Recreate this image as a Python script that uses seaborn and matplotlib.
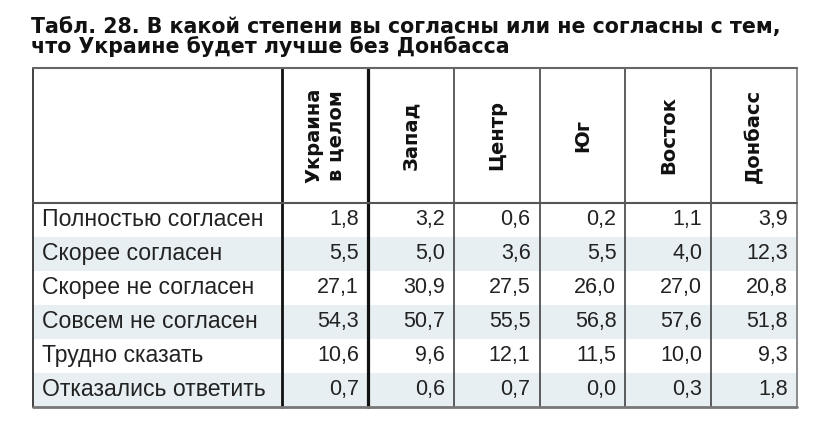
import matplotlib
matplotlib.use("Agg")
import matplotlib.pyplot as plt
import seaborn as sns
import numpy as np
import pandas as pd
from matplotlib.colors import ListedColormap

# ---- data ----
title_lines = [
    "Табл. 28. В какой степени вы согласны или не согласны с тем,",
    "что Украине будет лучше без Донбасса",
]
regions = ["Украина\nв целом", "Запад", "Центр", "Юг", "Восток", "Донбасс"]
answers = [
    "Полностью согласен",
    "Скорее согласен",
    "Скорее не согласен",
    "Совсем не согласен",
    "Трудно сказать",
    "Отказались ответить",
]
ukraine = [1.8, 5.5, 27.1, 54.3, 10.6, 0.7]
zapad = [3.2, 5.0, 30.9, 50.7, 9.6, 0.6]
centr = [0.6, 3.6, 27.5, 55.5, 12.1, 0.7]
yug = [0.2, 5.5, 26.0, 56.8, 11.5, 0.0]
vostok = [1.1, 4.0, 27.0, 57.6, 10.0, 0.3]
donbass = [3.9, 12.3, 20.8, 51.8, 9.3, 1.8]

df = pd.DataFrame(
    dict(zip(regions, [ukraine, zapad, centr, yug, vostok, donbass])), index=answers
)
nrow, ncol = df.shape
parity = np.arange(nrow) % 2
shade = pd.DataFrame(np.repeat(parity[:, None], ncol, axis=1), index=answers, columns=regions)

# ---- style ----
sns.set_style("white")
REG = ["Liberation Sans", "DejaVu Sans"]
BOLD = ["DejaVu Sans"]
SHADE = "#e7eff2"
TXT = "#222222"

W, H = 836, 446
fig = plt.figure(figsize=(W / 100, H / 100), dpi=100)
fig.patch.set_facecolor("white")

x_left, x_lab, x_right = 33, 282, 797
y_top, y_hdr, y_bot = 68, 203, 407
ax = fig.add_axes([x_left / W, 1 - y_bot / H, (x_right - x_left) / W, (y_bot - y_top) / H])

sns.heatmap(
    shade, cmap=ListedColormap(["white", SHADE]), vmin=0, vmax=1, cbar=False,
    ax=ax, xticklabels=False, yticklabels=False, linewidths=0,
)

colw = (x_right - x_lab) / ncol
rowh = (y_bot - y_hdr) / nrow
lab = (x_lab - x_left) / colw
hdr = (y_hdr - y_top) / rowh
ax.set_xlim(-lab, ncol)
ax.set_ylim(nrow, -hdr)
for s in ax.spines.values():
    s.set_visible(False)
ax.set_xticks([])
ax.set_yticks([])

# label column shading
ax.barh(np.arange(nrow) + 0.5, lab, left=-lab, height=1.0,
        color=["white" if p == 0 else SHADE for p in parity], zorder=0.5, linewidth=0)

pad = 9 / colw
for i, a in enumerate(answers):
    ax.text(-lab + pad, i + 0.5, a, ha="left", va="center", fontsize=16.6,
            family=REG, color=TXT)
for j, r in enumerate(regions):
    for i, v in enumerate(df[r]):
        ax.text(j + 1 - pad, i + 0.5, f"{v:.1f}".replace(".", ","), ha="right",
                va="center", fontsize=15.5, family=REG, color=TXT)
    ax.text(j + 0.5, -hdr / 2, r, rotation=90, ha="center", va="center",
            fontsize=14, fontweight="bold", family=BOLD, color="#111111",
            multialignment="center", linespacing=1.15)

# grid lines
vl = {0: ("#111111", 2.0), 1: ("#111111", 2.3)}
for x in range(1, ncol):
    vl.setdefault(x, ("#333333", 1.1))
for x, (c, lw) in vl.items():
    ax.plot([x, x], [-hdr, nrow], color=c, lw=lw, clip_on=False, zorder=3)
ax.plot([-lab, -lab], [-hdr, nrow], color="#333333", lw=1.3, clip_on=False, zorder=3)
ax.plot([ncol, ncol], [-hdr, nrow], color="#777777", lw=1.2, clip_on=False, zorder=3)
ax.plot([-lab, ncol], [-hdr, -hdr], color="#666666", lw=1.5, clip_on=False, zorder=3)
ax.plot([-lab, ncol], [0, 0], color="#555555", lw=1.5, clip_on=False, zorder=3)
ax.plot([-lab, ncol], [nrow, nrow], color="#777777", lw=2.0, clip_on=False, zorder=3)

# title (one text block, two lines)
fig.text(31 / W, 1 - 16.5 / H, "\n".join(title_lines), ha="left", va="top",
         fontsize=14.8, fontweight="bold", family=BOLD, color="#111111",
         linespacing=0.96)

fig.savefig("out.png", dpi=100, facecolor="white")
